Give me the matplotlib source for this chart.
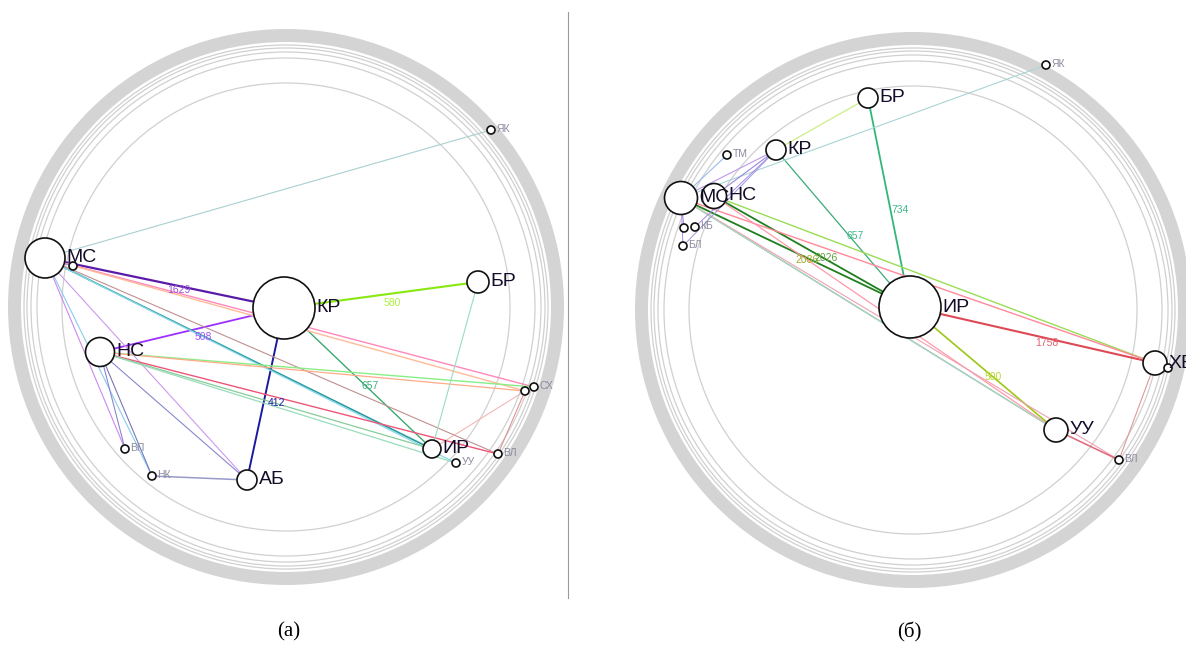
import matplotlib
matplotlib.use("Agg")
import matplotlib.pyplot as plt
from matplotlib.patches import Circle, Wedge
from matplotlib.lines import Line2D

W, H = 1186, 646
fig = plt.figure(figsize=(W / 100, H / 100), dpi=100)

BIG_FONT = ['Liberation Sans Narrow', 'Liberation Sans', 'DejaVu Sans']
SMALL_FONT = ['Liberation Sans', 'DejaVu Sans']

# ---------------- Panel (а) data ----------------
a_nodes = ["МС", "БЛ", "КР", "БР", "НС", "АБ", "НК", "ВП", "ИР", "УУ", "ВЛ", "СБ", "СХ", "ЯК"]
a_labels = ["МС", "", "КР", "БР", "НС", "АБ", "НК", "ВП", "ИР", "УУ", "ВЛ", "", "СХ", "ЯК"]
a_x = [-241, -213, -2, 192, -186, -39, -134, -161, 146, 170, 212, 239, 248, 205]
a_y = [49, 41, -1, 25, -45, -173, -169, -142, -142, -156, -147, -84, -80, 177]
a_size = [20, 4, 31, 11, 14.5, 10, 4, 4, 9, 4, 4, 4, 4, 4]

a_src = ["МС", "НС", "КР", "КР", "КР", "МС", "МС", "МС", "МС", "МС", "МС", "МС", "МС", "МС",
         "НС", "НС", "НС", "НК", "НС", "НС", "НС", "НС", "НС", "БР", "СБ", "СБ", "МС"]
a_dst = ["КР", "КР", "АБ", "БР", "ИР", "ЯК", "ИР", "УУ", "ВЛ", "СХ", "СБ", "ВП", "НК", "АБ",
         "ВП", "НК", "АБ", "АБ", "СХ", "СБ", "ВЛ", "ИР", "УУ", "ИР", "ИР", "ВЛ", "БЛ"]
a_val = [1629, 508, 412, 580, 657] + [None] * 22

# ---------------- Panel (б) data ----------------
b_nodes = ["МС", "НС", "КР", "ТМ", "КБ1", "КБ", "БЛ", "БР", "ЯК", "ИР", "ХВ", "ХВ2", "УУ", "ВЛ"]
b_labels = ["МС", "НС", "КР", "ТМ", "", "КБ", "БЛ", "БР", "ЯК", "ИР", "ХВ", "", "УУ", "ВЛ"]
b_x = [-232, -199, -137, -186, -229, -218, -230, -45, 133, -3, 242, 255, 143, 206]
b_y = [112, 114, 160, 155, 82, 83, 64, 212, 245, 3, -53, -58, -120, -150]
b_size = [16.5, 12.5, 10, 4, 4, 4, 4, 10, 4, 31, 12, 4, 12, 4]

b_src = ["ИР", "ИР", "ИР", "ИР", "МС", "НС", "НС", "МС", "МС", "МС", "НС", "МС", "МС",
         "УУ", "ХВ", "КР", "МС", "МС", "НС", "КБ", "БЛ", "МС", "БЛ", "КБ1"]
b_dst = ["ХВ", "УУ", "БР", "КР", "ИР", "ИР", "ХВ", "ХВ", "УУ", "УУ", "УУ", "ВЛ", "УУ",
         "ВЛ", "ВЛ", "БР", "ЯК", "КР", "КР", "КР", "КР", "ТМ", "МС", "МС"]
b_val = [1758, 500, 734, 657, 2086, 2026] + [None] * 18

# ---------------- styles ----------------
a_col = ['#5a1aa8', '#9b30ff', '#1a1aa0', '#88e810', '#3aaa70', '#a8d0d0', '#2a9a9a', '#88d8ee',
         '#c09090', '#ff88bb', '#ffbb99', '#cc88ee', '#88ccee', '#cc99ee', '#8888cc', '#7777bb',
         '#8888cc', '#9999cc', '#88ee88', '#ffaa88', '#ee5577', '#88cc99', '#99ddbb', '#99ddbb',
         '#f0b0b0', '#e08888', '#aa88ee']
a_lw = [1.6, 1.3, 1.4, 1.5, 1.0, 0.8, 1.2, 0.9, 0.8, 1.0, 1.0, 0.8, 0.8, 0.8, 0.8, 0.8,
        0.8, 1.1, 1.0, 0.9, 1.0, 0.9, 0.9, 0.8, 0.7, 0.7, 0.7]
a_labstyle = {0: (0.56, 0, -4, '#9a50d8'), 1: (0.56, 0, -10, '#a050ff'),
              2: (0.55, 13, 0, '#2020a8'), 3: (0.557, 0, -9.5, '#b0f040'),
              4: (0.553, 4, 0, '#40b080')}

b_col = ['#dd4a55', '#9cc814', '#30b878', '#3aaa78', '#1f7f1f', '#1f7f1f', '#99dd55', '#ff8899',
         '#88ddff', '#c89999', '#ff99aa', '#f0a0b0', '#aaddbb', '#dd6677', '#e09999', '#ccee88',
         '#aad4d4', '#bb99ee', '#9988dd', '#aa88ee', '#9999dd', '#99bbee', '#aa88ee', '#aa88ee']
b_lw = [1.5, 1.2, 1.3, 0.9, 1.3, 1.3, 1.0, 1.0, 1.0, 0.8, 0.9, 0.8, 0.8, 1.1, 0.8, 0.9,
        0.8, 0.8, 0.8, 0.7, 0.7, 0.8, 0.7, 0.7]
b_labstyle = {0: (0.56, 0, -5, '#e06070'), 1: (0.57, 0, 0, '#b8d830'),
              2: (0.464, 10, 0, '#40b888'), 3: (0.452, 6, 0, '#40b888'),
              4: (0.55, 0, -2, '#a0b030'), 5: (0.55, 4, -1, '#60a040')}

RING_R = 278
BAND_W = 13
THIN_R = [262, 259, 255, 249, 224]


def draw_panel(ax, nodes, labels, xs, ys, sizes, src, dst, vals, cols, lws, labstyle):
    # rings
    ax.add_patch(Wedge((0, 0), RING_R, 0, 360, width=BAND_W, facecolor='#d4d4d4',
                       edgecolor='none', zorder=1))
    for r in THIN_R:
        ax.add_patch(Circle((0, 0), r, facecolor='none', edgecolor='#d0d0d0',
                            lw=0.9, zorder=1))
    idx = {n: i for i, n in enumerate(nodes)}
    # edges
    for k, (s, d) in enumerate(zip(src, dst)):
        i, j = idx[s], idx[d]
        ax.plot([xs[i], xs[j]], [ys[i], ys[j]], color=cols[k], lw=lws[k],
                solid_capstyle='butt', zorder=2)
        if vals[k] is not None:
            t, dx, dy, c = labstyle[k]
            px = xs[i] + t * (xs[j] - xs[i]) + dx
            py = ys[i] + t * (ys[j] - ys[i]) + dy
            ax.text(px, py, str(vals[k]), color=c, fontsize=7.5, family=SMALL_FONT,
                    ha='center', va='center', zorder=3)
    # nodes
    for i, n in enumerate(nodes):
        ax.add_patch(Circle((xs[i], ys[i]), sizes[i], facecolor='white', edgecolor='#111111',
                            lw=1.2, zorder=4))
    for i, n in enumerate(nodes):
        if not labels[i]:
            continue
        big = sizes[i] > 6
        ax.text(xs[i] + sizes[i] + 1.5, ys[i] + (0 if big else 1),
                labels[i], ha='left', va='center', zorder=5,
                fontsize=14 if big else 7.5,
                color='#140c28' if big else '#8a8a9e',
                family=BIG_FONT if big else SMALL_FONT)


# panel axes: 1 data unit = 1 pixel, origin at ring centre
axa = fig.add_axes([0, 0, 567 / W, 1])
axa.set_xlim(-286, 281)
axa.set_ylim(-339, 307)
axa.axis('off')
draw_panel(axa, a_nodes, a_labels, a_x, a_y, a_size, a_src, a_dst, a_val, a_col, a_lw, a_labstyle)

axb = fig.add_axes([567 / W, 0, (W - 567) / W, 1])
axb.set_xlim(-346, 273)
axb.set_ylim(-336, 310)
axb.axis('off')
draw_panel(axb, b_nodes, b_labels, b_x, b_y, b_size, b_src, b_dst, b_val, b_col, b_lw, b_labstyle)

# separator
fig.add_artist(Line2D([567.5 / W, 567.5 / W], [1 - 12 / H, 1 - 598 / H],
                      color='#9a9a9a', lw=0.8))

# captions
cap_font = ['Liberation Serif', 'DejaVu Serif']
fig.text(289 / W, 1 - 632 / H, "(а)", ha='center', va='center', fontsize=15, family=cap_font)
fig.text(909 / W, 1 - 632 / H, "(б)", ha='center', va='center', fontsize=15, family=cap_font)

fig.savefig("out.png", dpi=100, facecolor='white')
